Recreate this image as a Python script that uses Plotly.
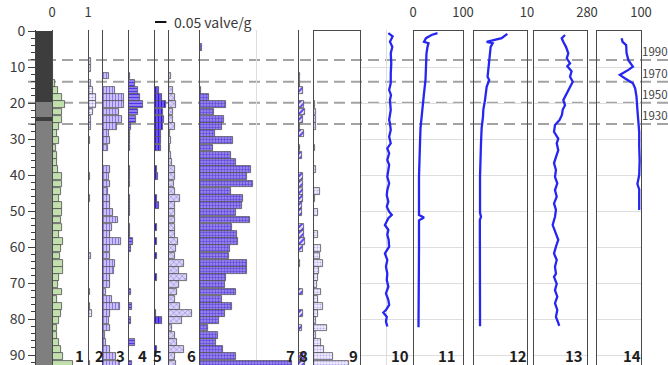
import plotly.graph_objects as go

# ------------------------------------------------------------------ data
# sample mid-depths (cm) for the bar profiles
depth = [0.5, 2.5, 4.5, 6.5, 8.5, 10.5, 12.5, 14.5, 16.5, 18.5,
         20.5, 22.5, 24.5, 26.5, 28.5, 30.5, 32.5, 34.5, 36.5, 38.5,
         40.5, 42.5, 44.5, 46.5, 48.5, 50.5, 52.5, 54.5, 56.5, 58.5,
         60.5, 62.5, 64.5, 66.5, 68.5, 70.5, 72.5, 74.5, 76.5, 78.5,
         80.5, 82.5, 84.5, 86.5, 88.5, 90.5, 92.5]

# lithology units
lith_top = [0.0, 19.6, 23.8, 25.0]
lith_bottom = [19.6, 23.8, 25.0, 93.0]
lith_kind = ["dark", "grey", "dark", "grey"]

# panel 1 (0-1 scale)
p1 = [0, 0, 0, 0, 0, 0.02, 0.04, 0.08, 0.17, 0.28,
      0.36, 0.29, 0.28, 0.20, 0.13, 0.20, 0.11, 0.13, 0.15, 0.18,
      0.27, 0.27, 0.25, 0.20, 0.27, 0.27, 0.24, 0.27, 0.20, 0.30,
      0.24, 0.22, 0.31, 0.30, 0.20, 0.18, 0.27, 0.15, 0.27, 0.24,
      0.20, 0.13, 0.13, 0.20, 0.25, 0.30, 0.58]

# panels 2-9 (valve/g)
p2 = [0, 0, 0, 0, 0.011, 0.015, 0, 0.015, 0.020, 0.035,
      0.035, 0.020, 0.015, 0.015, 0, 0.010, 0, 0, 0, 0,
      0.007, 0, 0, 0.007, 0, 0, 0, 0, 0, 0,
      0, 0.015, 0, 0, 0, 0, 0.007, 0, 0.007, 0.019,
      0, 0, 0, 0, 0, 0, 0.009]
p3 = [0, 0, 0, 0, 0, 0, 0.029, 0, 0.058, 0.096,
      0.096, 0.075, 0.088, 0.066, 0.029, 0.036, 0.025, 0.004, 0.004, 0.033,
      0.029, 0.033, 0.025, 0.033, 0.036, 0.048, 0.068, 0.044, 0.036, 0.083,
      0.036, 0.033, 0.058, 0.054, 0.036, 0.033, 0.019, 0.044, 0.077, 0.036,
      0.029, 0.036, 0.014, 0.019, 0.035, 0.061, 0.079]
p4 = [0, 0, 0, 0, 0, 0, 0.010, 0.031, 0.044, 0.053,
      0.067, 0.045, 0.033, 0.013, 0.010, 0.007, 0.007, 0, 0, 0.010,
      0.007, 0.010, 0.004, 0.010, 0.007, 0.007, 0.004, 0.010, 0.007, 0.022,
      0.014, 0.004, 0, 0, 0, 0, 0.014, 0, 0.018, 0,
      0.014, 0, 0, 0.031, 0, 0, 0.018]
p5 = [0, 0, 0, 0, 0, 0, 0, 0, 0.022, 0.034,
      0.053, 0.041, 0.044, 0.041, 0.029, 0.029, 0.029, 0, 0, 0.014,
      0.019, 0, 0, 0.014, 0.023, 0, 0, 0.014, 0, 0.012,
      0, 0.012, 0, 0, 0.014, 0, 0, 0, 0, 0.009,
      0.034, 0, 0, 0, 0.014, 0, 0]
p6 = [0, 0, 0, 0, 0, 0, 0.013, 0.004, 0.020, 0.029,
      0.033, 0.022, 0.020, 0.032, 0.010, 0.014, 0.010, 0.014, 0.018, 0.029,
      0.029, 0.025, 0.032, 0.054, 0.032, 0.029, 0.029, 0.032, 0.029, 0.044,
      0.035, 0.029, 0.069, 0.047, 0.083, 0.047, 0.039, 0.032, 0.054, 0.105,
      0.061, 0.018, 0.032, 0.039, 0.069, 0.029, 0.035]
p7 = [0, 0, 0.014, 0, 0, 0, 0, 0, 0.007, 0.044,
      0.117, 0.066, 0.110, 0.102, 0.070, 0.150, 0.063, 0.139, 0.161, 0.229,
      0.209, 0.238, 0.139, 0.193, 0.190, 0.161, 0.222, 0.146, 0.168, 0.171,
      0.136, 0.132, 0.209, 0.212, 0.117, 0.113, 0.161, 0.100, 0.146, 0.114,
      0.088, 0.039, 0.083, 0.076, 0.105, 0.164, 0.409]
p8 = [0, 0, 0, 0, 0, 0, 0.007, 0.007, 0.022, 0,
      0.025, 0.029, 0.022, 0.007, 0.025, 0, 0.007, 0.019, 0, 0,
      0.022, 0.022, 0.022, 0.022, 0.019, 0.019, 0, 0.025, 0.025, 0.029,
      0.022, 0, 0.007, 0, 0, 0, 0.022, 0, 0, 0.022,
      0, 0.019, 0, 0, 0, 0.029, 0.029]
p9 = [0, 0, 0, 0, 0, 0, 0, 0, 0, 0,
      0.007, 0.012, 0.012, 0.012, 0, 0, 0.007, 0, 0, 0.015,
      0, 0, 0.031, 0.007, 0, 0.022, 0, 0, 0.023, 0,
      0.037, 0.031, 0.044, 0.026, 0.022, 0.018, 0.037, 0.020, 0.044, 0.024,
      0.015, 0.061, 0.015, 0.037, 0.048, 0.086, 0.160]

# line profiles
d10 = [0.6, 1.5, 3, 4.4, 6.2, 9, 11.8, 14.5, 16.4, 17.8,
       19.2, 21.9, 24.7, 25.6, 27.5, 29.4, 31.2, 32.6, 34, 35.8,
       37.2, 39.1, 40.5, 42.3, 44.2, 45.6, 47.4, 48.8, 50.2, 51.1,
       52, 53.9, 55.2, 56.6, 58, 59.9, 61.8, 63.6, 65.5, 67.4,
       69.2, 71, 72.9, 74.7, 76.1, 77.5, 78.2, 79.4, 80.7, 82.1]
v10 = [1.07, 1.23, 1.13, 1.22, 1.16, 1.18, 1.16, 1.16, 1.10, 1.17,
       1.13, 1.16, 1.10, 1.13, 1.16, 1.10, 1.16, 1.03, 1.10, 1.03,
       1.10, 1.07, 1.03, 1.10, 1.03, 1.01, 1.07, 1.01, 1.10, 1.20,
       1.07, 0.94, 1.07, 1.03, 1.08, 1.10, 0.94, 1.03, 0.98, 1.03,
       1.01, 1.07, 0.98, 1.07, 1.10, 0.98, 0.88, 1.01, 0.98, 1.03]

d11 = [0.6, 1.1, 2, 3, 3.4, 4.4, 6.2, 9.8, 13.6, 17.3, 21.9, 27, 31.2,
       40.5, 49.7, 51.1, 51.8, 52.6, 60, 70, 82.3]
v11 = [49, 37, 26, 22, 31, 29, 27, 26, 25, 22, 18, 15, 14,
       12, 12, 12, 22, 12, 12, 11.5, 11]

d12 = [0.8, 2, 3, 3.4, 4.4, 6.2, 9.8, 12.7, 13.6, 15.5, 19.2, 21.9, 23.8,
       27, 31.2, 40.5, 50.5, 51.6, 52.5, 60, 70, 82]
v12 = [6.36, 5.3, 2.53, 3.64, 3.27, 3.15, 2.96, 2.7, 3.0, 2.53, 2.22, 1.91, 1.85,
       1.6, 1.48, 1.3, 1.3, 1.48, 1.27, 1.3, 1.3, 1.3]

d13 = [1.1, 2, 3, 4.4, 6.2, 7.6, 9, 9.8, 11.2, 12.7,
       14.1, 15.5, 17.8, 19.2, 20.6, 21.9, 23.3, 24.7, 26.1, 28,
       29.9, 31.2, 33.1, 34.9, 36.7, 38.6, 40.5, 42.3, 44.2, 46,
       47.9, 49.7, 51.6, 53.9, 55.7, 58, 59.9, 61.8, 63.6, 65.5,
       67.4, 68.3, 70.2, 72, 73.8, 75.6, 77.5, 79.4, 81.1, 81.9]
v13 = [166, 149, 157, 171, 183, 175, 192, 178, 200, 192,
       206, 192, 171, 157, 166, 154, 150, 138, 114, 109,
       131, 123, 131, 119, 109, 119, 114, 126, 114, 123,
       109, 119, 114, 102, 114, 131, 119, 109, 123, 114,
       119, 109, 123, 114, 126, 114, 126, 119, 131, 136]

d14 = [2, 3, 3.9, 6.2, 8.1, 9.4, 9.9, 10.8, 12.2, 13.1, 14.5, 15.9,
       18.2, 21.9, 25, 28, 32, 36, 40, 42.5, 44, 47, 49.7]
v14 = [57, 59, 67, 68, 72, 79, 82, 72, 53, 64, 82, 87,
       90, 92, 94, 96, 96, 97, 96, 92, 96, 96, 96]

# horizons
year_depth = [8.05, 14.1, 19.9, 25.8]
year_label = ["1990", "1970", "1950", "1930"]

panel_names = ["1", "2", "3", "4", "5", "6", "7", "8", "9",
               "10", "11", "12", "13", "14"]

# ------------------------------------------------------------------ layout helpers
W, H, T = 668, 365, 30
S = 0.05 / 11.4          # valve/g per pixel (from the 0.05 valve/g scale bar)
FONT = "Noto Sans CJK JP"
TXT = "#3a3a3a"
EDGE = "#4a4a4a"


def xd(a, b):
    return [a / W, b / W]


def py(px):            # pixel row -> paper y
    return (H - px) / (H - T)


fig = go.Figure()

# lithology column
lith_col = {"dark": "#3d3d3d", "grey": "#7f7f7f"}
fig.add_trace(go.Bar(
    x=[1] * len(lith_top),
    y=[(a + b) / 2 for a, b in zip(lith_top, lith_bottom)],
    width=[b - a for a, b in zip(lith_top, lith_bottom)],
    base=0, orientation="h",
    marker=dict(color=[lith_col[k] for k in lith_kind], line=dict(width=0)),
    xaxis="x", yaxis="y", showlegend=False, hoverinfo="skip"))

# panel 1
fig.add_trace(go.Bar(
    x=[v if v > 0 else None for v in p1], y=depth, width=1.85,
    orientation="h",
    marker=dict(color="#c2dfae", line=dict(color="#4e4e4e", width=0.8)),
    xaxis="x2", yaxis="y", showlegend=False))

# diatom panels 2-9
diatoms = [
    ("x3", p2, ".", "#a497ea", "#f6f4fe", 3, 0.35),
    ("x4", p3, "|", "#8b74ec", "#d9d0fa", 3, 0.45),
    ("x5", p4, "-", "#4f35e8", "#9f8cf5", 3, 0.45),
    ("x6", p5, "|", "#2e18e0", "#7b62f2", 3, 0.45),
    ("x7", p6, "x", "#9d8ee3", "#d9d2f6", 4, 0.3),
    ("x8", p7, ".", "#6049d8", "#a692f2", 3, 0.5),
    ("x9", p8, "/", "#5a3ef0", "#eeeafd", 4, 0.5),
    ("x10", p9, ".", "#bcb1f0", "#f1effc", 3, 0.4),
]
for ax, vals, shp, fg, bg, sz, sol in diatoms:
    fig.add_trace(go.Bar(
        x=[v if v > 0 else None for v in vals], y=depth, width=1.85,
        orientation="h",
        marker=dict(color=bg, line=dict(color="#555555", width=0.8),
                    pattern=dict(shape=shp, fgcolor=fg, bgcolor=bg,
                                 size=sz, solidity=sol)),
        xaxis=ax, yaxis="y", showlegend=False))

# line panels 10-14
for ax, xs, ys in [("x11", v10, d10), ("x12", v11, d11), ("x13", v12, d12),
                   ("x14", v13, d13), ("x15", v14, d14)]:
    fig.add_trace(go.Scatter(
        x=xs, y=ys, mode="lines",
        line=dict(color="#2626f2", width=2.3),
        xaxis=ax, yaxis="y2", showlegend=False))

# ------------------------------------------------------------------ axes
tickfont = dict(family=FONT, size=13, color=TXT)
hidden = dict(showgrid=False, zeroline=False, showline=False,
              showticklabels=False, ticks="")
top_ticks = dict(side="top", ticks="outside", ticklen=7,
                 tickcolor="rgba(0,0,0,0)", tickfont=tickfont,
                 showgrid=False, zeroline=False, showline=False)

lay = dict(
    xaxis=dict(domain=xd(36, 52), range=[0, 1], anchor="y", **hidden),
    xaxis2=dict(domain=xd(52, 88), range=[0, 1], anchor="y",
                tickvals=[0, 1], ticktext=["0", "1"], **top_ticks),
)
pan_px = {"x3": (88, 102), "x4": (102, 128), "x5": (128, 154),
          "x6": (154, 168), "x7": (168, 199), "x8": (199, 298),
          "x9": (298, 313), "x10": (313, 360)}
for ax, (a, b) in pan_px.items():
    key = "xaxis" + ax[1:]
    d = dict(domain=xd(a, b), range=[0, (b - a) * S], anchor="y", **hidden)
    if ax == "x8":
        d.update(showgrid=True, tickvals=[0.25], gridcolor="#dedede",
                 gridwidth=1)
    lay[key] = d

lay["xaxis11"] = dict(domain=xd(360, 413), range=[0, 2], anchor="y2",
                      **{**hidden, "showgrid": True}, tickvals=[1],
                      gridcolor="#dedede")
lay["xaxis12"] = dict(domain=xd(413, 463), range=[0, 100], anchor="y2",
                      tickvals=[0, 100], **top_ticks)
lay["xaxis13"] = dict(domain=xd(473, 527), range=[0, 10], anchor="y2",
                      tickvals=[10], **top_ticks)
lay["xaxis14"] = dict(domain=xd(533, 587), range=[0, 280], anchor="y2",
                      tickvals=[280], **top_ticks)
lay["xaxis15"] = dict(domain=xd(596, 641), range=[0, 100], anchor="y2",
                      tickvals=[100], **top_ticks)

yr = [(H - 31) / 3.6, -1 / 3.6]
lay["yaxis"] = dict(
    domain=[0, 1], range=yr, anchor="x",
    tickmode="linear", tick0=0, dtick=10,
    ticks="outside", ticklen=7, tickcolor="#404040", tickwidth=1,
    showline=True, linecolor="#404040", linewidth=1,
    showgrid=False, zeroline=False,
    tickfont=dict(family=FONT, size=14, color=TXT),
    minor=dict(tick0=0, dtick=2, ticks="outside", ticklen=4,
               tickcolor="#404040", showgrid=False))
lay["yaxis2"] = dict(
    domain=[0, 1], matches="y", anchor="x11",
    tickmode="linear", tick0=0, dtick=10,
    showgrid=True, gridcolor="#dedede", gridwidth=1,
    showticklabels=False, ticks="", showline=False, zeroline=False)

# ------------------------------------------------------------------ shapes
shapes = []
for d in year_depth:
    shapes.append(dict(type="line", xref="paper", yref="y",
                       x0=28 / W, x1=1, y0=d, y1=d, layer="below",
                       line=dict(color="#a3a3a3", width=2, dash="11px,6px")))
for xb in [52, 88, 102, 128, 154, 168, 199, 298, 313, 360, 413, 463,
           473, 527, 533, 587, 596, 641]:
    shapes.append(dict(type="line", xref="paper", yref="paper",
                       x0=(xb + 0.5) / W, x1=(xb + 0.5) / W, y0=0, y1=1,
                       line=dict(color=EDGE, width=1)))
for a, b in [(313, 360), (413, 463), (473, 527), (533, 587), (596, 641)]:
    shapes.append(dict(type="line", xref="paper", yref="paper",
                       x0=(a + 0.5) / W, x1=(b + 0.5) / W,
                       y0=py(30.5), y1=py(30.5),
                       line=dict(color=EDGE, width=1)))
# scale bar for 0.05 valve/g
shapes.append(dict(type="line", xref="paper", yref="paper",
                   x0=155 / W, x1=(155 + 0.05 / S) / W,
                   y0=py(22), y1=py(22),
                   line=dict(color="#111111", width=2)))

# ------------------------------------------------------------------ annotations
ann = []
ann.append(dict(text="0.05 valve/g", xref="paper", yref="paper",
                x=172 / W, y=py(22), xanchor="left", yanchor="middle",
                showarrow=False, font=dict(family=FONT, size=14, color=TXT)))
num_x = [79.5, 99, 120.5, 142.5, 157.5, 191.5, 290, 303, 353,
         400, 447, 517.5, 574, 631.5]
for name, xc in zip(panel_names, num_x):
    ann.append(dict(text="<b>" + name + "</b>", xref="paper", yref="paper",
                    x=xc / W, y=py(355), xanchor="center", yanchor="middle",
                    showarrow=False,
                    font=dict(family=FONT, size=15, color="#1e1e1e")))
for d, lab in zip(year_depth, year_label):
    ann.append(dict(text=lab, xref="paper", yref="y", x=641.5 / W, y=d,
                    xanchor="left", yanchor="bottom", showarrow=False,
                    borderpad=0, xshift=-1,
                    font=dict(family=FONT, size=11.5, color="#444444")))

fig.update_layout(
    **lay,
    shapes=shapes, annotations=ann,
    width=W, height=H, autosize=False,
    margin=dict(l=0, r=0, t=T, b=0, pad=0),
    paper_bgcolor="white", plot_bgcolor="rgba(0,0,0,0)",
    font=dict(family=FONT, color=TXT),
    bargap=0, showlegend=False, template="none",
)

fig.write_html(
    "out.html",
    config={"displayModeBar": False},
    post_script="document.body.style.margin='0';"
                "document.body.style.overflow='hidden';",
)
